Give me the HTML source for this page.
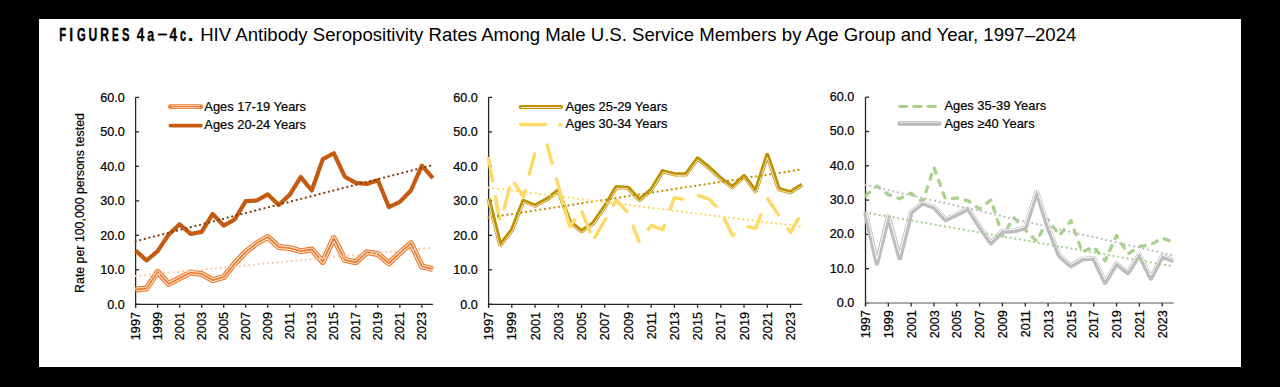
<!DOCTYPE html>
<html><head><meta charset="utf-8"><style>
html,body{margin:0;padding:0;background:#000;width:1280px;height:387px;overflow:hidden;}
svg{display:block;}
</style></head><body>
<svg width="1280" height="387" viewBox="0 0 1280 387">
<rect x="0" y="0" width="1280" height="387" fill="#000"/>
<rect x="39" y="19" width="1202" height="348" fill="#fff"/>
<text x="0" y="0" transform="translate(59.36,40.7) scale(0.604,1)" font-family='"Liberation Sans", sans-serif' font-weight="700" font-size="18.5" fill="#000" stroke="#000" stroke-width="0.41">F</text>
<text x="0" y="0" transform="translate(69.19,40.7) scale(0.742,1)" font-family='"Liberation Sans", sans-serif' font-weight="700" font-size="18.5" fill="#000" stroke="#000" stroke-width="0.34">I</text>
<text x="0" y="0" transform="translate(76.88,40.7) scale(0.604,1)" font-family='"Liberation Sans", sans-serif' font-weight="700" font-size="18.5" fill="#000" stroke="#000" stroke-width="0.41">G</text>
<text x="0" y="0" transform="translate(88.47,40.7) scale(0.657,1)" font-family='"Liberation Sans", sans-serif' font-weight="700" font-size="18.5" fill="#000" stroke="#000" stroke-width="0.38">U</text>
<text x="0" y="0" transform="translate(100.21,40.7) scale(0.647,1)" font-family='"Liberation Sans", sans-serif' font-weight="700" font-size="18.5" fill="#000" stroke="#000" stroke-width="0.39">R</text>
<text x="0" y="0" transform="translate(111.94,40.7) scale(0.543,1)" font-family='"Liberation Sans", sans-serif' font-weight="700" font-size="18.5" fill="#000" stroke="#000" stroke-width="0.46">E</text>
<text x="0" y="0" transform="translate(122.01,40.7) scale(0.603,1)" font-family='"Liberation Sans", sans-serif' font-weight="700" font-size="18.5" fill="#000" stroke="#000" stroke-width="0.41">S</text>
<text x="0" y="0" transform="translate(136.79,40.7) scale(0.734,1)" font-family='"Liberation Sans", sans-serif' font-weight="700" font-size="18.5" fill="#000" stroke="#000" stroke-width="0.34">4</text>
<text x="0" y="0" transform="translate(147.27,40.7) scale(0.673,1)" font-family='"Liberation Sans", sans-serif' font-weight="700" font-size="18.5" fill="#000" stroke="#000" stroke-width="0.37">a</text>
<text x="0" y="0" transform="translate(157.42,39.3) scale(0.968,0.8)" font-family='"Liberation Sans", sans-serif' font-weight="700" font-size="18.5" fill="#000" stroke="#000" stroke-width="0.26">–</text>
<text x="0" y="0" transform="translate(169.59,40.7) scale(0.734,1)" font-family='"Liberation Sans", sans-serif' font-weight="700" font-size="18.5" fill="#000" stroke="#000" stroke-width="0.34">4</text>
<text x="0" y="0" transform="translate(179.99,40.7) scale(0.592,1)" font-family='"Liberation Sans", sans-serif' font-weight="700" font-size="18.5" fill="#000" stroke="#000" stroke-width="0.42">c</text>
<text x="0" y="0" transform="translate(187.86,40.7) scale(1.085,1)" font-family='"Liberation Sans", sans-serif' font-weight="700" font-size="18.5" fill="#000" stroke="#000" stroke-width="0.23">.</text>
<text x="200.2" y="40.95" font-family='"Liberation Sans", sans-serif' font-size="18.5" textLength="876.2" lengthAdjust="spacingAndGlyphs" fill="#000">HIV Antibody Seropositivity Rates Among Male U.S. Service Members by Age Group and Year, 1997–2024</text>
<text transform="translate(83.9,203) rotate(-90)" text-anchor="middle" font-family='"Liberation Sans", sans-serif' font-size="12.35" fill="#000" stroke="#000" stroke-width="0.2">Rate per 100,000 persons tested</text>
<line x1="135.6" y1="97.4" x2="135.6" y2="307.3" stroke="#262626" stroke-width="1.3"/>
<line x1="135.6" y1="304.30" x2="139.10" y2="304.30" stroke="#262626" stroke-width="1.3"/>
<text x="124.8" y="308.80" text-anchor="end" font-family='"Liberation Sans", sans-serif' font-size="12.6" fill="#000" stroke="#000" stroke-width="0.22">0.0</text>
<line x1="135.6" y1="269.82" x2="139.10" y2="269.82" stroke="#262626" stroke-width="1.3"/>
<text x="124.8" y="274.32" text-anchor="end" font-family='"Liberation Sans", sans-serif' font-size="12.6" fill="#000" stroke="#000" stroke-width="0.22">10.0</text>
<line x1="135.6" y1="235.33" x2="139.10" y2="235.33" stroke="#262626" stroke-width="1.3"/>
<text x="124.8" y="239.83" text-anchor="end" font-family='"Liberation Sans", sans-serif' font-size="12.6" fill="#000" stroke="#000" stroke-width="0.22">20.0</text>
<line x1="135.6" y1="200.85" x2="139.10" y2="200.85" stroke="#262626" stroke-width="1.3"/>
<text x="124.8" y="205.35" text-anchor="end" font-family='"Liberation Sans", sans-serif' font-size="12.6" fill="#000" stroke="#000" stroke-width="0.22">30.0</text>
<line x1="135.6" y1="166.37" x2="139.10" y2="166.37" stroke="#262626" stroke-width="1.3"/>
<text x="124.8" y="170.87" text-anchor="end" font-family='"Liberation Sans", sans-serif' font-size="12.6" fill="#000" stroke="#000" stroke-width="0.22">40.0</text>
<line x1="135.6" y1="131.88" x2="139.10" y2="131.88" stroke="#262626" stroke-width="1.3"/>
<text x="124.8" y="136.38" text-anchor="end" font-family='"Liberation Sans", sans-serif' font-size="12.6" fill="#000" stroke="#000" stroke-width="0.22">50.0</text>
<line x1="135.6" y1="97.40" x2="139.10" y2="97.40" stroke="#262626" stroke-width="1.3"/>
<text x="124.8" y="101.90" text-anchor="end" font-family='"Liberation Sans", sans-serif' font-size="12.6" fill="#000" stroke="#000" stroke-width="0.22">60.0</text>
<line x1="135.6" y1="304.3" x2="432.9" y2="304.3" stroke="#262626" stroke-width="1.3"/>
<line x1="135.60" y1="304.3" x2="135.60" y2="307.80" stroke="#262626" stroke-width="1.3"/>
<text transform="translate(140.20,312.10) rotate(-90)" text-anchor="end" font-family='"Liberation Sans", sans-serif' font-size="12.6" fill="#000" stroke="#000" stroke-width="0.22">1997</text>
<line x1="157.62" y1="304.3" x2="157.62" y2="307.80" stroke="#262626" stroke-width="1.3"/>
<text transform="translate(162.22,312.10) rotate(-90)" text-anchor="end" font-family='"Liberation Sans", sans-serif' font-size="12.6" fill="#000" stroke="#000" stroke-width="0.22">1999</text>
<line x1="179.64" y1="304.3" x2="179.64" y2="307.80" stroke="#262626" stroke-width="1.3"/>
<text transform="translate(184.24,312.10) rotate(-90)" text-anchor="end" font-family='"Liberation Sans", sans-serif' font-size="12.6" fill="#000" stroke="#000" stroke-width="0.22">2001</text>
<line x1="201.67" y1="304.3" x2="201.67" y2="307.80" stroke="#262626" stroke-width="1.3"/>
<text transform="translate(206.27,312.10) rotate(-90)" text-anchor="end" font-family='"Liberation Sans", sans-serif' font-size="12.6" fill="#000" stroke="#000" stroke-width="0.22">2003</text>
<line x1="223.69" y1="304.3" x2="223.69" y2="307.80" stroke="#262626" stroke-width="1.3"/>
<text transform="translate(228.29,312.10) rotate(-90)" text-anchor="end" font-family='"Liberation Sans", sans-serif' font-size="12.6" fill="#000" stroke="#000" stroke-width="0.22">2005</text>
<line x1="245.71" y1="304.3" x2="245.71" y2="307.80" stroke="#262626" stroke-width="1.3"/>
<text transform="translate(250.31,312.10) rotate(-90)" text-anchor="end" font-family='"Liberation Sans", sans-serif' font-size="12.6" fill="#000" stroke="#000" stroke-width="0.22">2007</text>
<line x1="267.73" y1="304.3" x2="267.73" y2="307.80" stroke="#262626" stroke-width="1.3"/>
<text transform="translate(272.33,312.10) rotate(-90)" text-anchor="end" font-family='"Liberation Sans", sans-serif' font-size="12.6" fill="#000" stroke="#000" stroke-width="0.22">2009</text>
<line x1="289.76" y1="304.3" x2="289.76" y2="307.80" stroke="#262626" stroke-width="1.3"/>
<text transform="translate(294.36,312.10) rotate(-90)" text-anchor="end" font-family='"Liberation Sans", sans-serif' font-size="12.6" fill="#000" stroke="#000" stroke-width="0.22">2011</text>
<line x1="311.78" y1="304.3" x2="311.78" y2="307.80" stroke="#262626" stroke-width="1.3"/>
<text transform="translate(316.38,312.10) rotate(-90)" text-anchor="end" font-family='"Liberation Sans", sans-serif' font-size="12.6" fill="#000" stroke="#000" stroke-width="0.22">2013</text>
<line x1="333.80" y1="304.3" x2="333.80" y2="307.80" stroke="#262626" stroke-width="1.3"/>
<text transform="translate(338.40,312.10) rotate(-90)" text-anchor="end" font-family='"Liberation Sans", sans-serif' font-size="12.6" fill="#000" stroke="#000" stroke-width="0.22">2015</text>
<line x1="355.82" y1="304.3" x2="355.82" y2="307.80" stroke="#262626" stroke-width="1.3"/>
<text transform="translate(360.42,312.10) rotate(-90)" text-anchor="end" font-family='"Liberation Sans", sans-serif' font-size="12.6" fill="#000" stroke="#000" stroke-width="0.22">2017</text>
<line x1="377.84" y1="304.3" x2="377.84" y2="307.80" stroke="#262626" stroke-width="1.3"/>
<text transform="translate(382.44,312.10) rotate(-90)" text-anchor="end" font-family='"Liberation Sans", sans-serif' font-size="12.6" fill="#000" stroke="#000" stroke-width="0.22">2019</text>
<line x1="399.87" y1="304.3" x2="399.87" y2="307.80" stroke="#262626" stroke-width="1.3"/>
<text transform="translate(404.47,312.10) rotate(-90)" text-anchor="end" font-family='"Liberation Sans", sans-serif' font-size="12.6" fill="#000" stroke="#000" stroke-width="0.22">2021</text>
<line x1="421.89" y1="304.3" x2="421.89" y2="307.80" stroke="#262626" stroke-width="1.3"/>
<text transform="translate(426.49,312.10) rotate(-90)" text-anchor="end" font-family='"Liberation Sans", sans-serif' font-size="12.6" fill="#000" stroke="#000" stroke-width="0.22">2023</text>
<line x1="488.6" y1="97.4" x2="488.6" y2="307.3" stroke="#262626" stroke-width="1.3"/>
<line x1="488.6" y1="304.30" x2="492.10" y2="304.30" stroke="#262626" stroke-width="1.3"/>
<text x="477.7" y="308.80" text-anchor="end" font-family='"Liberation Sans", sans-serif' font-size="12.6" fill="#000" stroke="#000" stroke-width="0.22">0.0</text>
<line x1="488.6" y1="269.82" x2="492.10" y2="269.82" stroke="#262626" stroke-width="1.3"/>
<text x="477.7" y="274.32" text-anchor="end" font-family='"Liberation Sans", sans-serif' font-size="12.6" fill="#000" stroke="#000" stroke-width="0.22">10.0</text>
<line x1="488.6" y1="235.33" x2="492.10" y2="235.33" stroke="#262626" stroke-width="1.3"/>
<text x="477.7" y="239.83" text-anchor="end" font-family='"Liberation Sans", sans-serif' font-size="12.6" fill="#000" stroke="#000" stroke-width="0.22">20.0</text>
<line x1="488.6" y1="200.85" x2="492.10" y2="200.85" stroke="#262626" stroke-width="1.3"/>
<text x="477.7" y="205.35" text-anchor="end" font-family='"Liberation Sans", sans-serif' font-size="12.6" fill="#000" stroke="#000" stroke-width="0.22">30.0</text>
<line x1="488.6" y1="166.37" x2="492.10" y2="166.37" stroke="#262626" stroke-width="1.3"/>
<text x="477.7" y="170.87" text-anchor="end" font-family='"Liberation Sans", sans-serif' font-size="12.6" fill="#000" stroke="#000" stroke-width="0.22">40.0</text>
<line x1="488.6" y1="131.88" x2="492.10" y2="131.88" stroke="#262626" stroke-width="1.3"/>
<text x="477.7" y="136.38" text-anchor="end" font-family='"Liberation Sans", sans-serif' font-size="12.6" fill="#000" stroke="#000" stroke-width="0.22">50.0</text>
<line x1="488.6" y1="97.40" x2="492.10" y2="97.40" stroke="#262626" stroke-width="1.3"/>
<text x="477.7" y="101.90" text-anchor="end" font-family='"Liberation Sans", sans-serif' font-size="12.6" fill="#000" stroke="#000" stroke-width="0.22">60.0</text>
<line x1="488.6" y1="304.3" x2="802.1" y2="304.3" stroke="#262626" stroke-width="1.3"/>
<line x1="488.60" y1="304.3" x2="488.60" y2="307.80" stroke="#262626" stroke-width="1.3"/>
<text transform="translate(493.20,312.10) rotate(-90)" text-anchor="end" font-family='"Liberation Sans", sans-serif' font-size="12.6" fill="#000" stroke="#000" stroke-width="0.22">1997</text>
<line x1="511.82" y1="304.3" x2="511.82" y2="307.80" stroke="#262626" stroke-width="1.3"/>
<text transform="translate(516.42,312.10) rotate(-90)" text-anchor="end" font-family='"Liberation Sans", sans-serif' font-size="12.6" fill="#000" stroke="#000" stroke-width="0.22">1999</text>
<line x1="535.04" y1="304.3" x2="535.04" y2="307.80" stroke="#262626" stroke-width="1.3"/>
<text transform="translate(539.64,312.10) rotate(-90)" text-anchor="end" font-family='"Liberation Sans", sans-serif' font-size="12.6" fill="#000" stroke="#000" stroke-width="0.22">2001</text>
<line x1="558.27" y1="304.3" x2="558.27" y2="307.80" stroke="#262626" stroke-width="1.3"/>
<text transform="translate(562.87,312.10) rotate(-90)" text-anchor="end" font-family='"Liberation Sans", sans-serif' font-size="12.6" fill="#000" stroke="#000" stroke-width="0.22">2003</text>
<line x1="581.49" y1="304.3" x2="581.49" y2="307.80" stroke="#262626" stroke-width="1.3"/>
<text transform="translate(586.09,312.10) rotate(-90)" text-anchor="end" font-family='"Liberation Sans", sans-serif' font-size="12.6" fill="#000" stroke="#000" stroke-width="0.22">2005</text>
<line x1="604.71" y1="304.3" x2="604.71" y2="307.80" stroke="#262626" stroke-width="1.3"/>
<text transform="translate(609.31,312.10) rotate(-90)" text-anchor="end" font-family='"Liberation Sans", sans-serif' font-size="12.6" fill="#000" stroke="#000" stroke-width="0.22">2007</text>
<line x1="627.93" y1="304.3" x2="627.93" y2="307.80" stroke="#262626" stroke-width="1.3"/>
<text transform="translate(632.53,312.10) rotate(-90)" text-anchor="end" font-family='"Liberation Sans", sans-serif' font-size="12.6" fill="#000" stroke="#000" stroke-width="0.22">2009</text>
<line x1="651.16" y1="304.3" x2="651.16" y2="307.80" stroke="#262626" stroke-width="1.3"/>
<text transform="translate(655.76,312.10) rotate(-90)" text-anchor="end" font-family='"Liberation Sans", sans-serif' font-size="12.6" fill="#000" stroke="#000" stroke-width="0.22">2011</text>
<line x1="674.38" y1="304.3" x2="674.38" y2="307.80" stroke="#262626" stroke-width="1.3"/>
<text transform="translate(678.98,312.10) rotate(-90)" text-anchor="end" font-family='"Liberation Sans", sans-serif' font-size="12.6" fill="#000" stroke="#000" stroke-width="0.22">2013</text>
<line x1="697.60" y1="304.3" x2="697.60" y2="307.80" stroke="#262626" stroke-width="1.3"/>
<text transform="translate(702.20,312.10) rotate(-90)" text-anchor="end" font-family='"Liberation Sans", sans-serif' font-size="12.6" fill="#000" stroke="#000" stroke-width="0.22">2015</text>
<line x1="720.82" y1="304.3" x2="720.82" y2="307.80" stroke="#262626" stroke-width="1.3"/>
<text transform="translate(725.42,312.10) rotate(-90)" text-anchor="end" font-family='"Liberation Sans", sans-serif' font-size="12.6" fill="#000" stroke="#000" stroke-width="0.22">2017</text>
<line x1="744.04" y1="304.3" x2="744.04" y2="307.80" stroke="#262626" stroke-width="1.3"/>
<text transform="translate(748.64,312.10) rotate(-90)" text-anchor="end" font-family='"Liberation Sans", sans-serif' font-size="12.6" fill="#000" stroke="#000" stroke-width="0.22">2019</text>
<line x1="767.27" y1="304.3" x2="767.27" y2="307.80" stroke="#262626" stroke-width="1.3"/>
<text transform="translate(771.87,312.10) rotate(-90)" text-anchor="end" font-family='"Liberation Sans", sans-serif' font-size="12.6" fill="#000" stroke="#000" stroke-width="0.22">2021</text>
<line x1="790.49" y1="304.3" x2="790.49" y2="307.80" stroke="#262626" stroke-width="1.3"/>
<text transform="translate(795.09,312.10) rotate(-90)" text-anchor="end" font-family='"Liberation Sans", sans-serif' font-size="12.6" fill="#000" stroke="#000" stroke-width="0.22">2023</text>
<line x1="865.5" y1="97.2" x2="865.5" y2="306.0" stroke="#262626" stroke-width="1.3"/>
<line x1="865.5" y1="303.00" x2="869.00" y2="303.00" stroke="#262626" stroke-width="1.3"/>
<text x="854.3" y="306.90" text-anchor="end" font-family='"Liberation Sans", sans-serif' font-size="12.6" fill="#000" stroke="#000" stroke-width="0.22">0.0</text>
<line x1="865.5" y1="268.70" x2="869.00" y2="268.70" stroke="#262626" stroke-width="1.3"/>
<text x="854.3" y="272.60" text-anchor="end" font-family='"Liberation Sans", sans-serif' font-size="12.6" fill="#000" stroke="#000" stroke-width="0.22">10.0</text>
<line x1="865.5" y1="234.40" x2="869.00" y2="234.40" stroke="#262626" stroke-width="1.3"/>
<text x="854.3" y="238.30" text-anchor="end" font-family='"Liberation Sans", sans-serif' font-size="12.6" fill="#000" stroke="#000" stroke-width="0.22">20.0</text>
<line x1="865.5" y1="200.10" x2="869.00" y2="200.10" stroke="#262626" stroke-width="1.3"/>
<text x="854.3" y="204.00" text-anchor="end" font-family='"Liberation Sans", sans-serif' font-size="12.6" fill="#000" stroke="#000" stroke-width="0.22">30.0</text>
<line x1="865.5" y1="165.80" x2="869.00" y2="165.80" stroke="#262626" stroke-width="1.3"/>
<text x="854.3" y="169.70" text-anchor="end" font-family='"Liberation Sans", sans-serif' font-size="12.6" fill="#000" stroke="#000" stroke-width="0.22">40.0</text>
<line x1="865.5" y1="131.50" x2="869.00" y2="131.50" stroke="#262626" stroke-width="1.3"/>
<text x="854.3" y="135.40" text-anchor="end" font-family='"Liberation Sans", sans-serif' font-size="12.6" fill="#000" stroke="#000" stroke-width="0.22">50.0</text>
<line x1="865.5" y1="97.20" x2="869.00" y2="97.20" stroke="#262626" stroke-width="1.3"/>
<text x="854.3" y="101.10" text-anchor="end" font-family='"Liberation Sans", sans-serif' font-size="12.6" fill="#000" stroke="#000" stroke-width="0.22">60.0</text>
<line x1="865.5" y1="303.0" x2="1173.6" y2="303.0" stroke="#8c8c8c" stroke-width="1.3"/>
<line x1="865.50" y1="303.0" x2="865.50" y2="306.50" stroke="#262626" stroke-width="1.3"/>
<text transform="translate(870.10,310.20) rotate(-90)" text-anchor="end" font-family='"Liberation Sans", sans-serif' font-size="12.6" fill="#000" stroke="#000" stroke-width="0.22">1997</text>
<line x1="888.32" y1="303.0" x2="888.32" y2="306.50" stroke="#262626" stroke-width="1.3"/>
<text transform="translate(892.92,310.20) rotate(-90)" text-anchor="end" font-family='"Liberation Sans", sans-serif' font-size="12.6" fill="#000" stroke="#000" stroke-width="0.22">1999</text>
<line x1="911.14" y1="303.0" x2="911.14" y2="306.50" stroke="#262626" stroke-width="1.3"/>
<text transform="translate(915.74,310.20) rotate(-90)" text-anchor="end" font-family='"Liberation Sans", sans-serif' font-size="12.6" fill="#000" stroke="#000" stroke-width="0.22">2001</text>
<line x1="933.97" y1="303.0" x2="933.97" y2="306.50" stroke="#262626" stroke-width="1.3"/>
<text transform="translate(938.57,310.20) rotate(-90)" text-anchor="end" font-family='"Liberation Sans", sans-serif' font-size="12.6" fill="#000" stroke="#000" stroke-width="0.22">2003</text>
<line x1="956.79" y1="303.0" x2="956.79" y2="306.50" stroke="#262626" stroke-width="1.3"/>
<text transform="translate(961.39,310.20) rotate(-90)" text-anchor="end" font-family='"Liberation Sans", sans-serif' font-size="12.6" fill="#000" stroke="#000" stroke-width="0.22">2005</text>
<line x1="979.61" y1="303.0" x2="979.61" y2="306.50" stroke="#262626" stroke-width="1.3"/>
<text transform="translate(984.21,310.20) rotate(-90)" text-anchor="end" font-family='"Liberation Sans", sans-serif' font-size="12.6" fill="#000" stroke="#000" stroke-width="0.22">2007</text>
<line x1="1002.43" y1="303.0" x2="1002.43" y2="306.50" stroke="#262626" stroke-width="1.3"/>
<text transform="translate(1007.03,310.20) rotate(-90)" text-anchor="end" font-family='"Liberation Sans", sans-serif' font-size="12.6" fill="#000" stroke="#000" stroke-width="0.22">2009</text>
<line x1="1025.26" y1="303.0" x2="1025.26" y2="306.50" stroke="#262626" stroke-width="1.3"/>
<text transform="translate(1029.86,310.20) rotate(-90)" text-anchor="end" font-family='"Liberation Sans", sans-serif' font-size="12.6" fill="#000" stroke="#000" stroke-width="0.22">2011</text>
<line x1="1048.08" y1="303.0" x2="1048.08" y2="306.50" stroke="#262626" stroke-width="1.3"/>
<text transform="translate(1052.68,310.20) rotate(-90)" text-anchor="end" font-family='"Liberation Sans", sans-serif' font-size="12.6" fill="#000" stroke="#000" stroke-width="0.22">2013</text>
<line x1="1070.90" y1="303.0" x2="1070.90" y2="306.50" stroke="#262626" stroke-width="1.3"/>
<text transform="translate(1075.50,310.20) rotate(-90)" text-anchor="end" font-family='"Liberation Sans", sans-serif' font-size="12.6" fill="#000" stroke="#000" stroke-width="0.22">2015</text>
<line x1="1093.72" y1="303.0" x2="1093.72" y2="306.50" stroke="#262626" stroke-width="1.3"/>
<text transform="translate(1098.32,310.20) rotate(-90)" text-anchor="end" font-family='"Liberation Sans", sans-serif' font-size="12.6" fill="#000" stroke="#000" stroke-width="0.22">2017</text>
<line x1="1116.54" y1="303.0" x2="1116.54" y2="306.50" stroke="#262626" stroke-width="1.3"/>
<text transform="translate(1121.14,310.20) rotate(-90)" text-anchor="end" font-family='"Liberation Sans", sans-serif' font-size="12.6" fill="#000" stroke="#000" stroke-width="0.22">2019</text>
<line x1="1139.37" y1="303.0" x2="1139.37" y2="306.50" stroke="#262626" stroke-width="1.3"/>
<text transform="translate(1143.97,310.20) rotate(-90)" text-anchor="end" font-family='"Liberation Sans", sans-serif' font-size="12.6" fill="#000" stroke="#000" stroke-width="0.22">2021</text>
<line x1="1162.19" y1="303.0" x2="1162.19" y2="306.50" stroke="#262626" stroke-width="1.3"/>
<text transform="translate(1166.79,310.20) rotate(-90)" text-anchor="end" font-family='"Liberation Sans", sans-serif' font-size="12.6" fill="#000" stroke="#000" stroke-width="0.22">2023</text>
<polyline points="135.60,289.47 146.61,288.44 157.62,271.89 168.63,283.95 179.64,278.09 190.66,272.58 201.67,273.95 212.68,280.16 223.69,277.06 234.70,263.61 245.71,251.89 256.72,243.26 267.73,237.06 278.74,247.06 289.76,248.09 300.77,251.20 311.78,249.47 322.79,261.89 333.80,238.09 344.81,259.82 355.82,262.23 366.83,252.23 377.84,253.95 388.86,263.26 399.87,252.92 410.88,243.26 421.89,266.37 432.90,269.13" fill="none" stroke="#ED7D31" stroke-width="6.0" stroke-linejoin="round"/><polyline points="135.60,289.47 146.61,288.44 157.62,271.89 168.63,283.95 179.64,278.09 190.66,272.58 201.67,273.95 212.68,280.16 223.69,277.06 234.70,263.61 245.71,251.89 256.72,243.26 267.73,237.06 278.74,247.06 289.76,248.09 300.77,251.20 311.78,249.47 322.79,261.89 333.80,238.09 344.81,259.82 355.82,262.23 366.83,252.23 377.84,253.95 388.86,263.26 399.87,252.92 410.88,243.26 421.89,266.37 432.90,269.13" fill="none" stroke="#fff" stroke-width="3.60" stroke-linejoin="round" opacity="0.92"/><polyline points="135.60,289.47 146.61,288.44 157.62,271.89 168.63,283.95 179.64,278.09 190.66,272.58 201.67,273.95 212.68,280.16 223.69,277.06 234.70,263.61 245.71,251.89 256.72,243.26 267.73,237.06 278.74,247.06 289.76,248.09 300.77,251.20 311.78,249.47 322.79,261.89 333.80,238.09 344.81,259.82 355.82,262.23 366.83,252.23 377.84,253.95 388.86,263.26 399.87,252.92 410.88,243.26 421.89,266.37 432.90,269.13" fill="none" stroke="#ED7D31" stroke-width="1.86" stroke-linejoin="round"/>
<polyline points="135.60,250.51 146.61,260.51 157.62,251.20 168.63,234.64 179.64,224.30 190.66,233.95 201.67,231.88 212.68,213.95 223.69,225.68 234.70,219.47 245.71,201.19 256.72,200.51 267.73,194.30 278.74,204.99 289.76,194.64 300.77,177.06 311.78,190.50 322.79,159.13 333.80,153.26 344.81,176.71 355.82,182.92 366.83,183.95 377.84,180.16 388.86,207.06 399.87,201.88 410.88,190.50 421.89,165.68 432.90,178.09" fill="none" stroke="#C55A11" stroke-width="4.2" stroke-linejoin="round"/>
<polyline points="135.60,276.00 432.90,247.60" fill="none" stroke="#F8CBAD" stroke-width="2.2" stroke-linecap="round" stroke-dasharray="0.05 4.7"/>
<polyline points="135.60,241.28 432.90,165.05" fill="none" stroke="#843C0C" stroke-width="2.2" stroke-linecap="round" stroke-dasharray="0.05 4.7"/>
<polyline points="488.60,198.78 500.21,244.99 511.82,230.16 523.43,200.85 535.04,205.68 546.66,199.47 558.27,190.50 569.88,221.88 581.49,231.20 593.10,223.26 604.71,206.71 616.32,187.06 627.93,187.75 639.54,199.82 651.16,189.82 662.77,171.19 674.38,174.30 685.99,174.30 697.60,158.44 709.21,167.75 720.82,178.44 732.43,187.06 744.04,176.02 755.66,191.19 767.27,154.99 778.88,189.13 790.49,192.23 802.10,184.64" fill="none" stroke="#BF9000" stroke-width="4.2" stroke-linejoin="round"/>
<polyline points="487.68,199.01 499.76,247.10 512.65,230.64 523.96,202.10 535.10,206.73 547.17,200.27 557.82,192.05 569.08,222.46 581.44,232.38 593.78,223.95 605.51,207.23 616.85,188.04 627.51,188.67 639.48,201.12 651.89,190.44 663.20,172.29 674.25,175.25 686.47,175.25 697.78,159.80 708.59,168.47 720.22,179.17 732.51,188.30 743.93,177.44 756.01,193.21 767.29,157.70 778.14,189.91 790.65,193.26 802.62,185.44" fill="none" stroke="#fff" stroke-width="0.8" stroke-linejoin="round"/>
<polyline points="488.60,158.44 500.21,223.61 511.82,179.13 523.43,196.71 535.04,152.57 546.66,143.26 558.27,185.68 569.88,226.71 581.49,210.51 593.10,240.16 604.71,220.51 616.32,200.16 627.93,212.57 639.54,242.92 651.16,225.33 662.77,229.82 674.38,197.40 685.99,200.16 697.60,195.33 709.21,199.13 720.82,211.19 732.43,235.68 744.04,226.02 755.66,228.44 767.27,198.09 778.88,215.33 790.49,232.57 802.10,211.88" fill="none" stroke="#FFD966" stroke-width="3.4" stroke-linejoin="round" stroke-linecap="round" stroke-dasharray="0.01 1.70 21.35 15.99 22.51 20.27 21.59 13.90 22.38 16.97 20.85 17.96 18.99 16.18 58.20 13.19 21.26 12.19 21.58 15.88 20.97 16.09 16.22 17.73 22.24 17.49 21.01 16.68 20.94 15.43 20.84 16.96 22.40 18.80 19.37 16.88 20.46 57.75"/>
<polyline points="488.60,217.61 802.10,169.36" fill="none" stroke="#BF9000" stroke-width="2.2" stroke-linecap="round" stroke-dasharray="0.05 4.7"/>
<polyline points="488.60,187.63 802.10,226.61" fill="none" stroke="#FFD966" stroke-width="2.2" stroke-linecap="round" stroke-dasharray="0.05 4.7"/>
<polyline points="865.50,195.64 876.91,186.04 888.32,194.61 899.73,198.73 911.14,193.24 922.56,201.81 933.97,167.51 945.38,198.73 956.79,198.04 968.20,200.79 979.61,209.02 991.02,199.76 1002.43,236.12 1013.84,217.59 1025.26,229.94 1036.67,241.26 1048.08,219.65 1059.49,235.43 1070.90,220.68 1082.31,252.24 1093.72,246.75 1105.13,260.81 1116.54,235.43 1127.96,253.95 1139.37,246.41 1150.78,244.69 1162.19,238.17 1173.60,242.29" fill="none" stroke="#A9D18E" stroke-width="3.3" stroke-linejoin="round" stroke-linecap="round" stroke-dasharray="5.2 7.94"/>
<polyline points="865.50,212.79 876.91,263.21 888.32,216.56 899.73,258.07 911.14,212.45 922.56,203.19 933.97,207.30 945.38,219.65 956.79,214.51 968.20,208.68 979.61,226.85 991.02,242.97 1002.43,231.31 1013.84,230.97 1025.26,227.88 1036.67,191.87 1048.08,227.54 1059.49,256.01 1070.90,265.96 1082.31,259.10 1093.72,258.41 1105.13,282.42 1116.54,263.56 1127.96,272.82 1139.37,254.64 1150.78,278.30 1162.19,256.35 1173.60,260.81" fill="none" stroke="#BDBDBD" stroke-width="4.9" stroke-linejoin="round"/>
<polyline points="866.82,212.49 876.94,259.36 888.27,212.71 899.69,254.21 909.94,211.68 922.30,201.66 934.73,206.14 945.71,218.02 956.20,213.29 968.69,206.91 980.73,226.10 991.19,240.87 1001.85,229.98 1013.65,229.63 1024.19,226.77 1036.66,188.01 1049.35,227.08 1060.62,255.20 1071.05,264.29 1081.90,257.77 1094.55,257.01 1105.28,279.58 1116.19,261.53 1127.62,270.81 1139.52,251.85 1150.82,275.29 1161.55,254.65 1174.09,259.55" fill="none" stroke="#fff" stroke-width="1.0" stroke-linejoin="round"/>
<polyline points="865.50,184.90 1173.60,255.48" fill="none" stroke="#BFBFBF" stroke-width="2.2" stroke-linecap="round" stroke-dasharray="0.05 4.7"/>
<polyline points="865.50,212.51 1173.60,266.36" fill="none" stroke="#A9D18E" stroke-width="2.2" stroke-linecap="round" stroke-dasharray="0.05 4.7"/>
<line x1="170.5" y1="106.7" x2="200.7" y2="106.7" stroke="#ED7D31" stroke-width="4.8" stroke-linecap="round"/>
<line x1="171.0" y1="106.7" x2="200.2" y2="106.7" stroke="#FFFFFF" stroke-width="2.8" opacity="0.8"/>
<line x1="170.5" y1="106.7" x2="200.7" y2="106.7" stroke="#ED7D31" stroke-width="1.3"/>
<line x1="170.5" y1="125.6" x2="200.7" y2="125.6" stroke="#C55A11" stroke-width="3.9" stroke-linecap="round"/>
<text x="204.3" y="110.9" font-family='"Liberation Sans", sans-serif' font-size="12.9" fill="#000" stroke="#000" stroke-width="0.2">Ages 17-19 Years</text>
<text x="204.3" y="128.5" font-family='"Liberation Sans", sans-serif' font-size="12.9" fill="#000" stroke="#000" stroke-width="0.2">Ages 20-24 Years</text>
<line x1="520.8" y1="106.9" x2="561.0" y2="106.9" stroke="#BF9000" stroke-width="4.0" stroke-linecap="round"/>
<line x1="521.0" y1="107.5" x2="560.8" y2="107.5" stroke="#fff" stroke-width="0.9" opacity="0.9"/>
<line x1="520.5" y1="124.6" x2="545.5" y2="124.6" stroke="#FFD966" stroke-width="3.5" stroke-linecap="round"/>
<circle cx="560" cy="124.6" r="1.9" fill="#FFD966"/>
<text x="565.6" y="110.9" font-family='"Liberation Sans", sans-serif' font-size="12.9" fill="#000" stroke="#000" stroke-width="0.2">Ages 25-29 Years</text>
<text x="565.6" y="128.1" font-family='"Liberation Sans", sans-serif' font-size="12.9" fill="#000" stroke="#000" stroke-width="0.2">Ages 30-34 Years</text>
<line x1="899.5500000000001" y1="106.5" x2="906.65" y2="106.5" stroke="#A9D18E" stroke-width="2.9" stroke-linecap="round"/>
<line x1="913.7" y1="106.5" x2="921.05" y2="106.5" stroke="#A9D18E" stroke-width="2.9" stroke-linecap="round"/>
<line x1="928.0500000000001" y1="106.5" x2="935.4499999999999" y2="106.5" stroke="#A9D18E" stroke-width="2.9" stroke-linecap="round"/>
<line x1="899.7" y1="123.5" x2="939.3" y2="123.5" stroke="#B4B4B4" stroke-width="4.4" stroke-linecap="round"/>
<line x1="899.7" y1="122.6" x2="939.3" y2="122.6" stroke="#F2F2F2" stroke-width="0.8" stroke-linecap="round"/>
<text x="944.4" y="110.0" font-family='"Liberation Sans", sans-serif' font-size="12.9" fill="#000" stroke="#000" stroke-width="0.2">Ages 35-39 Years</text>
<text x="944.4" y="127.75" font-family='"Liberation Sans", sans-serif' font-size="12.9" fill="#000" stroke="#000" stroke-width="0.2">Ages ≥40 Years</text>
</svg>
</body></html>
